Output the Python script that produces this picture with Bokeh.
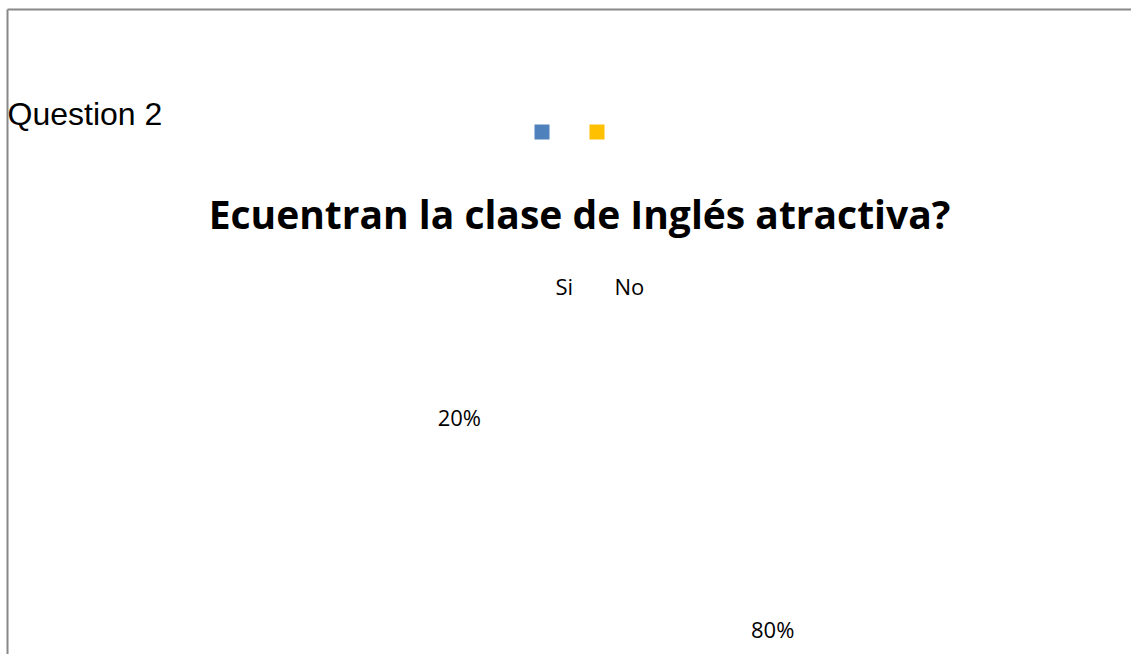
import math
from bokeh.plotting import figure
from bokeh.models import Range1d, ColumnDataSource
from bokeh.core.properties import value
from bokeh.embed import file_html
from bokeh.resources import INLINE

# ---- data ----
categories = ["Si", "No"]
shares = [20, 80]
colors = ["#4F81BD", "#FFC000"]
title_text = "Ecuentran la clase de Inglés atractiva?"
caption_text = "Question 2"

W, H = 1131, 654
p = figure(width=W, height=H, output_backend="svg", toolbar_location=None,
           x_range=Range1d(0, W), y_range=Range1d(H, 0), min_border=0)
p.axis.visible = False
p.grid.visible = False
p.outline_line_color = None
p.background_fill_color = "white"
p.border_fill_color = "white"

# border (left & top)
p.segment(x0=[7, 7], y0=[9, 9], x1=[7, W + 10], y1=[H + 10, 9],
          line_color="#888888", line_width=2)

# caption
p.text(x=[7], y=[113.5], text=[caption_text], text_font=value("Liberation Sans"),
       text_font_size="32px", text_align="left", text_baseline="middle", text_color="black")

# title
p.text(x=[579], y=[212.5], text=[title_text], text_font=value("Open Sans"),
       text_font_style="bold", text_font_size="39px", text_align="center",
       text_baseline="middle", text_color="black")

# legend markers and labels
idx = list(range(len(categories)))
leg = ColumnDataSource(dict(
    mx=[541.5 + 55 * i for i in idx],
    my=[131.5] * len(idx),
    tx=[555 + 59 * i for i in idx],
    ty=[285] * len(idx),
    cat=categories, col=colors))
p.scatter(x="mx", y="my", marker="square", size=15, fill_color="col", line_color=None, source=leg)
p.text(x="tx", y="ty", text="cat", source=leg, text_font=value("Open Sans"),
       text_font_size="22px", text_align="left", text_baseline="middle", text_color="black")

# pie labels (slices not rendered in the reference)
cx, cy, r = 615.5, 522.5, 189.0
start = 110.0
total = float(sum(shares))
lx, ly, lt = [], [], []
acc = 0.0
for s in shares:
    mid = math.radians(start + (acc + s / 2.0) / total * 360.0)
    lx.append(cx + r * math.cos(mid))
    ly.append(cy - r * math.sin(mid))
    lt.append(f"{s}%")
    acc += s
p.text(x=lx, y=ly, text=lt, text_font=value("Open Sans"), text_font_size="22px",
       text_align="center", text_baseline="middle", text_color="black")

open("out.html", "w").write(file_html(p, INLINE))
